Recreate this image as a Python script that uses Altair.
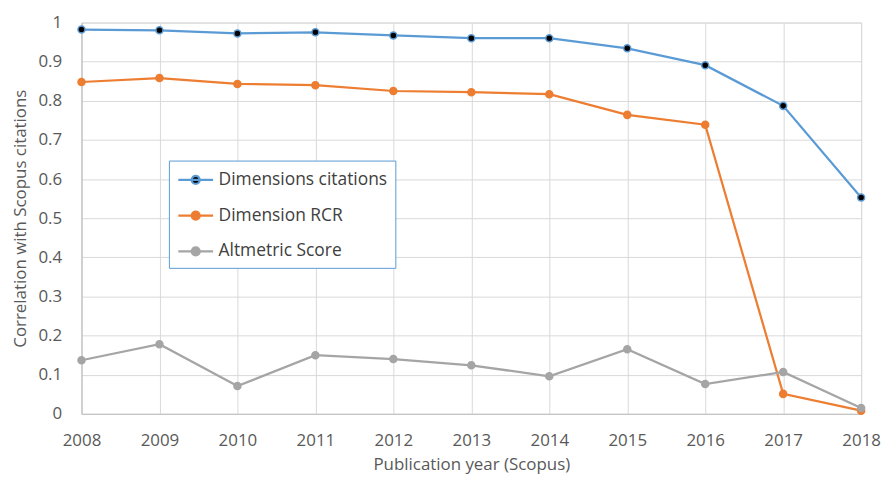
import altair as alt
import pandas as pd

years = [2008, 2009, 2010, 2011, 2012, 2013, 2014, 2015, 2016, 2017, 2018]
series_names = ["Dimensions citations", "Dimension RCR", "Altmetric Score"]
dim_citations = [0.982, 0.980, 0.972, 0.975, 0.967, 0.960, 0.960, 0.934, 0.891, 0.787, 0.553]
dim_rcr = [0.848, 0.858, 0.843, 0.840, 0.825, 0.822, 0.817, 0.764, 0.739, 0.051, 0.008]
altmetric = [0.137, 0.178, 0.071, 0.150, 0.140, 0.124, 0.096, 0.165, 0.076, 0.107, 0.015]

line_colors = ["#5b9bd5", "#ed7d31", "#a5a5a5"]
dot_fills = ["#000000", "#ed7d31", "#a5a5a5"]
y_ticks = [0, 0.1, 0.2, 0.3, 0.4, 0.5, 0.6, 0.7, 0.8, 0.9, 1]

rows = []
for name, vals in zip(series_names, [dim_citations, dim_rcr, altmetric]):
    for yr, v in zip(years, vals):
        rows.append({"year": yr, "value": v, "series": name})
df = pd.DataFrame(rows)

FONT = "Open Sans"
TXT = "#595959"
legend_path = "M-1,0L2.5,0M0.35,0A0.4,0.4,0,1,0,1.15,0A0.4,0.4,0,1,0,0.35,0Z"
legend = alt.Legend(
    title=None,
    orient="none",
    legendX=88,
    legendY=139,
    symbolType=legend_path,
    symbolSize=400,
    symbolStrokeWidth=2.25,
    labelOffset=19,
    labelFont=FONT,
    labelFontSize=17.5,
    labelColor="#404040",
    rowPadding=16,
    padding=8,
    strokeColor="#5b9bd5",
    fillColor="white",
    labelLimit=300,
)

x = alt.X("year:Q",
          scale=alt.Scale(domain=[2008, 2018], nice=False, zero=False),
          axis=alt.Axis(values=years, format="d", title="Publication year (Scopus)",
                        labelFont=FONT, labelFontSize=17, labelColor=TXT,
                        titleFont=FONT, titleFontSize=17, titleColor=TXT,
                        titleFontWeight="normal",
                        labelPadding=19, titlePadding=8, ticks=False,
                        domainColor="#bfbfbf", gridColor="#d9d9d9", labelFlush=False))
y = alt.Y("value:Q",
          scale=alt.Scale(domain=[0, 1], nice=False),
          axis=alt.Axis(values=y_ticks, format="~g", title="Correlation with Scopus citations",
                        labelFont=FONT, labelFontSize=17, labelColor=TXT,
                        titleFont=FONT, titleFontSize=17, titleColor=TXT,
                        titleFontWeight="normal",
                        labelPadding=20, titlePadding=8, ticks=False,
                        domainColor="#bfbfbf", gridColor="#d9d9d9"))

stroke = alt.Stroke("series:N", sort=series_names,
                    scale=alt.Scale(domain=series_names, range=line_colors), legend=legend)
fill = alt.Fill("series:N", sort=series_names,
                scale=alt.Scale(domain=series_names, range=dot_fills), legend=legend)

lines = alt.Chart(df).mark_line(strokeWidth=2.25).encode(x=x, y=y, stroke=stroke, detail="series:N")
points = alt.Chart(df).mark_point(filled=False, size=50, strokeWidth=1.5, opacity=1).encode(
    x=x, y=y, stroke=stroke, fill=fill)

chart = alt.layer(lines, points).properties(
    width=785, height=394,
    autosize=alt.AutoSizeParams(type="none"),
    padding={"left": 74, "top": 13, "right": 20, "bottom": 66},
    background="white",
).configure_view(stroke="#d9d9d9")

chart.save("out.html", embed_options={"renderer": "svg", "actions": False})
